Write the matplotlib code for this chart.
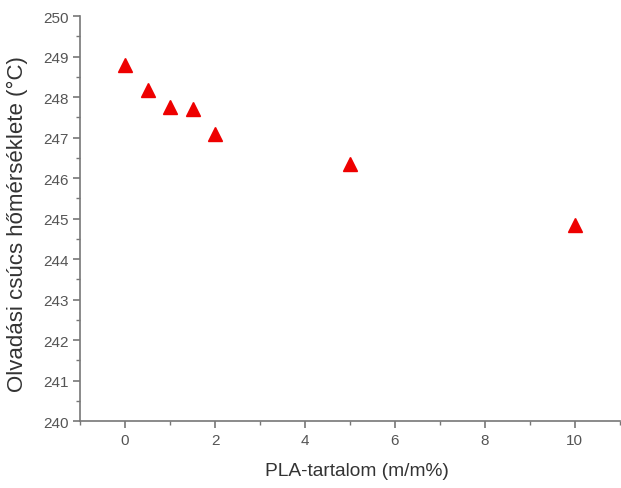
import matplotlib
matplotlib.use("Agg")
import matplotlib.pyplot as plt
from matplotlib.ticker import MultipleLocator

plt.rcParams["font.family"] = ["Liberation Sans", "DejaVu Sans"]

pla_content = [0, 0.5, 1, 1.5, 2, 5, 10]
peak_temp = [248.79, 248.17, 247.75, 247.70, 247.09, 246.35, 244.84]

x_label = "PLA-tartalom (m/m%)"
y_label = "Olvadási csúcs hőmérséklete (°C)"

fig = plt.figure(figsize=(6.21, 4.89), dpi=100)
ax = fig.add_axes([0.129, 0.137, 0.869, 0.828])

ax.plot(pla_content, peak_temp, linestyle="none", marker="^",
        markersize=10.5, color="#ee0000", markeredgecolor="#ee0000")

ax.set_xlim(-1, 11)
ax.set_ylim(240, 250)
ax.xaxis.set_major_locator(MultipleLocator(2))
ax.xaxis.set_minor_locator(MultipleLocator(1))
ax.yaxis.set_major_locator(MultipleLocator(1))
ax.yaxis.set_minor_locator(MultipleLocator(0.5))

for side in ("top", "right"):
    ax.spines[side].set_visible(False)
for side in ("left", "bottom"):
    ax.spines[side].set_color("#777777")
    ax.spines[side].set_linewidth(1.2)

ax.tick_params(which="major", direction="out", length=5, width=1.2,
               color="#777777", labelcolor="#555555", labelsize=11)
ax.tick_params(which="minor", direction="out", length=3, width=1,
               color="#777777")

ax.set_xlabel(x_label, fontsize=13.8, color="#333333")
ax.xaxis.set_label_coords(0.513, -0.101)
ax.set_ylabel(y_label, fontsize=16, color="#333333")
ax.yaxis.set_label_coords(-0.097, 0.49)

fig.savefig("out.png", dpi=100)
